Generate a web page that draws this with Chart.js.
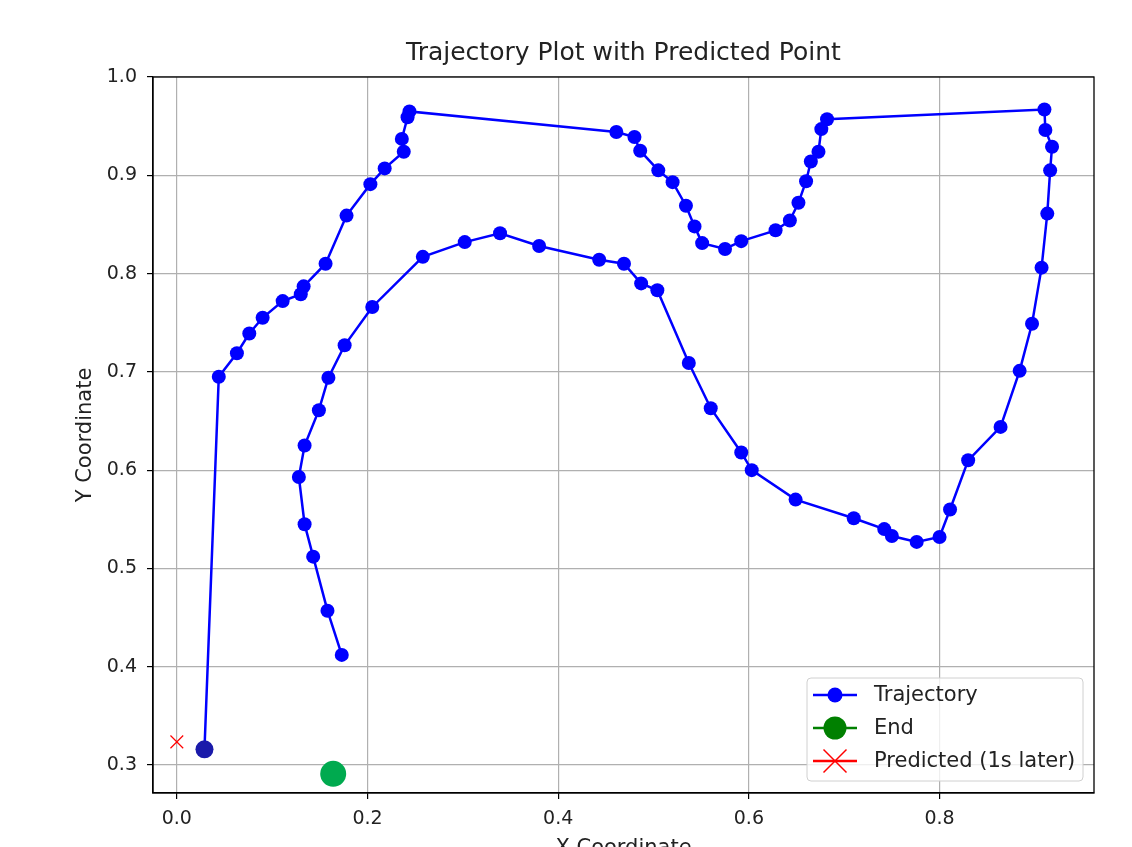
<!DOCTYPE html>
<html lang="en">
<head>
    <meta charset="UTF-8">
    <title>Trajectory Plot with Predicted Point</title>
    <script src="https://cdn.jsdelivr.net/npm/chart.js"></script>
    <style>
        html, body { margin: 0; padding: 0; overflow: hidden; background: #fff; }
        #wrap { width: 1132px; height: 880px; }
    </style>
</head>
<body>
    <div id="wrap"><canvas id="trajChart"></canvas></div>

    <script>
        // trajectory, in drawing order
        const trajX = [0.029, 0.044, 0.063, 0.076, 0.090, 0.111, 0.130, 0.133, 0.156, 0.178,
                       0.203, 0.218, 0.238, 0.236, 0.242, 0.244, 0.461, 0.480, 0.486, 0.505,
                       0.520, 0.534, 0.543, 0.551, 0.575, 0.592, 0.628, 0.643, 0.652, 0.660,
                       0.665, 0.673, 0.676, 0.682, 0.910, 0.911, 0.918, 0.916, 0.913, 0.907,
                       0.897, 0.884, 0.864, 0.830, 0.811, 0.800, 0.776, 0.750, 0.742, 0.710,
                       0.649, 0.603, 0.592, 0.560, 0.537, 0.504, 0.487, 0.469, 0.443, 0.380,
                       0.339, 0.302, 0.258, 0.205, 0.176, 0.159, 0.149, 0.134, 0.128, 0.134,
                       0.143, 0.158, 0.173];
        const trajY = [0.316, 0.695, 0.719, 0.739, 0.755, 0.772, 0.779, 0.787, 0.810, 0.859,
                       0.891, 0.907, 0.924, 0.937, 0.959, 0.965, 0.944, 0.939, 0.925, 0.905,
                       0.893, 0.869, 0.848, 0.831, 0.825, 0.833, 0.844, 0.854, 0.872, 0.894,
                       0.914, 0.924, 0.947, 0.957, 0.967, 0.946, 0.929, 0.905, 0.861, 0.806,
                       0.749, 0.701, 0.644, 0.610, 0.560, 0.532, 0.527, 0.533, 0.540, 0.551,
                       0.570, 0.600, 0.618, 0.663, 0.709, 0.783, 0.790, 0.810, 0.814, 0.828,
                       0.841, 0.832, 0.817, 0.766, 0.727, 0.694, 0.661, 0.625, 0.593, 0.545,
                       0.512, 0.457, 0.412];

        const startPoint = [0.029, 0.316];
        const endPoint = [0.164, 0.291];
        const predictedPoint = [0.0, 0.3235];

        const xTicks = [0.0, 0.2, 0.4, 0.6, 0.8];
        const yTicks = [0.3, 0.4, 0.5, 0.6, 0.7, 0.8, 0.9, 1.0];

        const chartTitle = 'Trajectory Plot with Predicted Point';

        const legendItems = [
            { label: 'Trajectory', color: '#0000ff', style: 'circle', radius: 7.5 },
            { label: 'End', color: '#008000', style: 'circle', radius: 11.5 },
            { label: 'Predicted (1s later)', color: '#ff0000', style: 'cross', radius: 11.5 }
        ];

        const FONT = "'DejaVu Sans', sans-serif";

        // title centred over the axes, all four spines, and a legend inside the axes
        const axesBox = {
            id: 'axesBox',
            afterDraw(chart) {
                const { ctx, chartArea: a } = chart;
                ctx.save();
                ctx.strokeStyle = '#000';
                ctx.lineWidth = 1.3;
                ctx.strokeRect(a.left, a.top, a.right - a.left, a.bottom - a.top);

                ctx.fillStyle = '#222';
                ctx.font = '25px ' + FONT;
                ctx.textAlign = 'center';
                ctx.textBaseline = 'middle';
                ctx.fillText(chartTitle, (a.left + a.right) / 2, 53);

                const bx = 807, by = 678, bw = 276, bh = 103;
                ctx.beginPath();
                ctx.roundRect(bx, by, bw, bh, 4);
                ctx.fillStyle = 'rgba(255,255,255,0.8)';
                ctx.fill();
                ctx.strokeStyle = '#d0d0d0';
                ctx.lineWidth = 1;
                ctx.stroke();

                ctx.font = '21px ' + FONT;
                ctx.textAlign = 'left';
                legendItems.forEach((it, i) => {
                    const cy = 695 + i * 33;
                    ctx.strokeStyle = it.color;
                    ctx.lineWidth = 2.5;
                    ctx.beginPath();
                    ctx.moveTo(813, cy);
                    ctx.lineTo(857, cy);
                    ctx.stroke();
                    if (it.style === 'circle') {
                        ctx.fillStyle = it.color;
                        ctx.beginPath();
                        ctx.arc(835, cy, it.radius, 0, Math.PI * 2);
                        ctx.fill();
                    } else {
                        ctx.lineWidth = 1.5;
                        ctx.beginPath();
                        ctx.moveTo(835 - it.radius, cy - it.radius);
                        ctx.lineTo(835 + it.radius, cy + it.radius);
                        ctx.moveTo(835 - it.radius, cy + it.radius);
                        ctx.lineTo(835 + it.radius, cy - it.radius);
                        ctx.stroke();
                    }
                    ctx.fillStyle = '#222';
                    ctx.fillText(it.label, 874, cy + 1);
                });
                ctx.restore();
            }
        };

        const toPoints = (xs, ys) => xs.map((x, i) => ({ x: x, y: ys[i] }));

        const ctx = document.getElementById('trajChart').getContext('2d');
        const trajChart = new Chart(ctx, {
            type: 'scatter',
            data: {
                datasets: [
                    {
                        label: 'Start',
                        data: [{ x: startPoint[0], y: startPoint[1] }],
                        pointRadius: 9,
                        pointBackgroundColor: '#1a1aaa',
                        pointBorderWidth: 0,
                        order: 0
                    },
                    {
                        label: 'Predicted (1s later)',
                        data: [{ x: predictedPoint[0], y: predictedPoint[1] }],
                        pointStyle: 'crossRot',
                        pointRadius: 9,
                        borderColor: '#ff0000',
                        pointBorderWidth: 1.2,
                        order: 1
                    },
                    {
                        label: 'End',
                        data: [{ x: endPoint[0], y: endPoint[1] }],
                        pointRadius: 13,
                        pointBackgroundColor: '#00aa4f',
                        pointBorderWidth: 0,
                        order: 2
                    },
                    {
                        label: 'Trajectory',
                        data: toPoints(trajX, trajY),
                        showLine: true,
                        borderColor: '#0000ff',
                        borderWidth: 2.5,
                        pointRadius: 7,
                        pointBackgroundColor: '#0000ff',
                        pointBorderWidth: 0,
                        order: 3
                    }
                ]
            },
            options: {
                responsive: true,
                maintainAspectRatio: false,
                animation: false,
                layout: { padding: { top: 77, left: 0, right: 38, bottom: 0 } },
                plugins: {
                    legend: { display: false },
                    tooltip: { enabled: false },
                    title: { display: false }
                },
                scales: {
                    x: {
                        type: 'linear',
                        min: -0.025,
                        max: 0.962,
                        afterBuildTicks: (s) => { s.ticks = xTicks.map(v => ({ value: v })); },
                        afterFit: (s) => { s.height = 87; },
                        ticks: {
                            color: '#222',
                            padding: 9,
                            font: { family: FONT, size: 19 },
                            callback: (v) => Number(v).toFixed(1)
                        },
                        grid: { color: '#b0b0b0', lineWidth: 1.2, tickColor: '#000', tickLength: 6 },
                        border: { color: '#000', width: 1.3 },
                        title: {
                            display: true,
                            text: 'X Coordinate',
                            color: '#222',
                            font: { family: FONT, size: 21 },
                            padding: { top: 0, bottom: 19 }
                        }
                    },
                    y: {
                        type: 'linear',
                        min: 0.2715,
                        max: 1.0,
                        afterBuildTicks: (s) => { s.ticks = yTicks.map(v => ({ value: v })); },
                        afterFit: (s) => { s.width = 153; },
                        ticks: {
                            color: '#222',
                            padding: 10,
                            font: { family: FONT, size: 19 },
                            callback: (v) => Number(v).toFixed(1)
                        },
                        grid: { color: '#b0b0b0', lineWidth: 1.2, tickColor: '#000', tickLength: 6 },
                        border: { color: '#000', width: 1.3 },
                        title: {
                            display: true,
                            text: 'Y Coordinate',
                            color: '#222',
                            font: { family: FONT, size: 21 },
                            padding: { top: 73, bottom: 0 }
                        }
                    }
                }
            },
            plugins: [axesBox]
        });
    </script>
</body>
</html>
